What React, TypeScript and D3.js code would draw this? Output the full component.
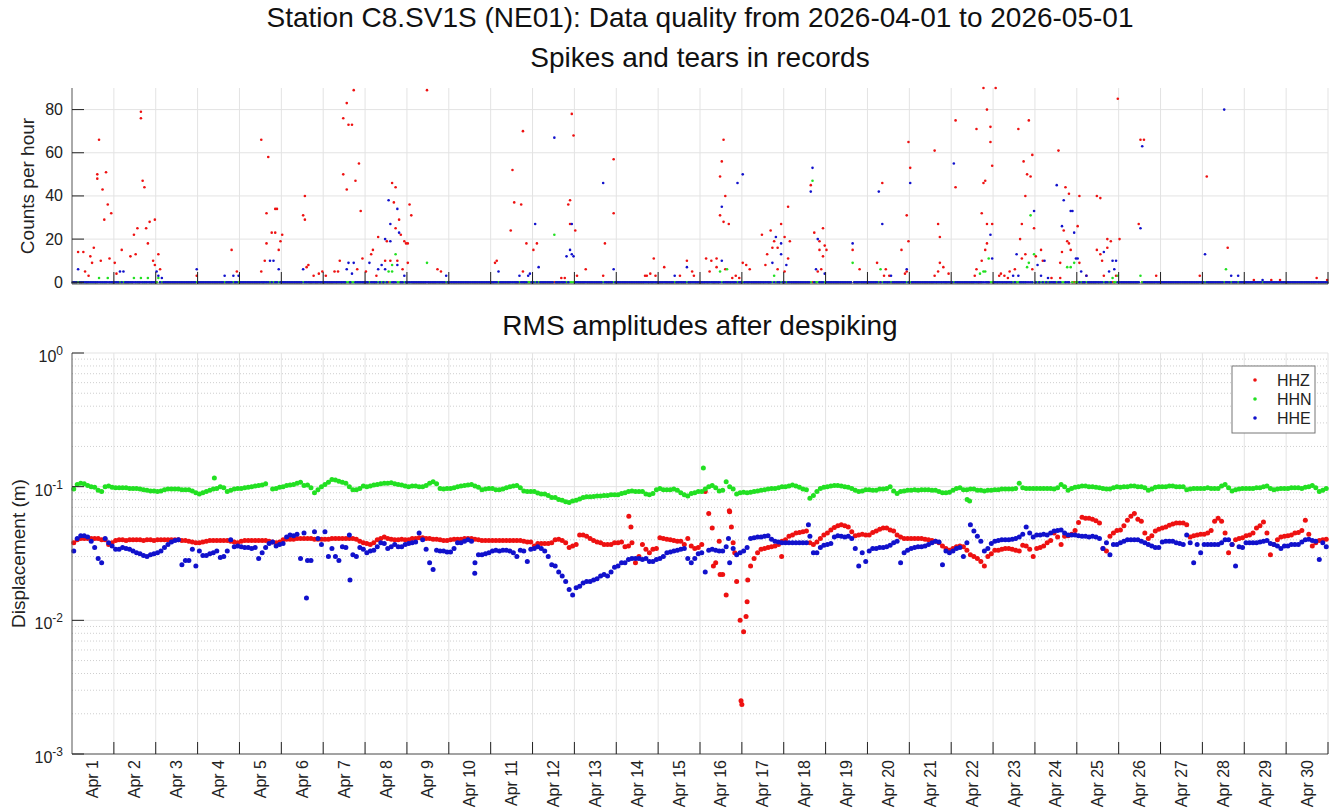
import React from "react";
import * as d3 from "d3";

// ---------- labels ----------
const DAY_LABELS = [
  "Apr 1", "Apr 2", "Apr 3", "Apr 4", "Apr 5", "Apr 6", "Apr 7", "Apr 8", "Apr 9", "Apr 10",
  "Apr 11", "Apr 12", "Apr 13", "Apr 14", "Apr 15", "Apr 16", "Apr 17", "Apr 18", "Apr 19", "Apr 20",
  "Apr 21", "Apr 22", "Apr 23", "Apr 24", "Apr 25", "Apr 26", "Apr 27", "Apr 28", "Apr 29", "Apr 30",
];
const TOP_Y_TICKS = [0, 20, 40, 60, 80];
const BOT_Y_TICKS = [1e-3, 1e-2, 1e-1, 1];
const BOT_Y_EXP = ["-3", "-2", "-1", "0"];
const CHANNELS = ["HHZ", "HHN", "HHE"];
const COLORS = ["#ee1111", "#22e022", "#1111cc"];

// ---------- RMS amplitudes (mm), 2-hour bins, 12 per day, Apr 1 .. Apr 30 ----------
const HHZ_RMS_MM = [
  38, 40, 41, 41, 41, 41, 41, 41, 40, 40, 37, 38,
  39.5, 40, 40, 39.5, 40, 40, 40, 40, 39.5, 40, 40, 39.5,
  40, 40, 40, 40, 40, 40, 40, 39.5, 39.5, 39, 38.5, 38,
  38, 38.5, 39, 39.5, 39.5, 39.5, 39.5, 39.5, 39.5, 39, 38.5, 38,
  39, 39.5, 39.5, 39.5, 39.5, 39.5, 39.5, 39.5, 39, 38.5, 38, 38.5,
  40, 40.5, 40.5, 40.5, 41, 41, 41, 41, 41, 40.5, 40.5, 40.5,
  40.5, 40.5, 41, 41, 41, 41, 41, 41, 41, 40.5, 39, 38,
  37.5, 37, 38, 40, 41, 42, 41, 40.5, 40, 40, 40.5, 40,
  40, 41, 41, 41.5, 41.5, 41, 41, 40.5, 40.5, 40, 39.5, 39.5,
  40, 40.5, 40.5, 40.5, 41, 41, 41, 40.5, 40, 39.5, 39.5, 39.5,
  39.5, 39.5, 39.5, 39.5, 39.5, 39.5, 39.5, 39.5, 39.5, 39, 38.5, 38.5,
  36, 37.5, 37.5, 37.5, 37.5, 38, 40, 40.5, 39.5, 38, 35, 36,
  37, 43.5, 43.5, 42.5, 41, 39.5, 38.5, 38, 37, 37, 37, 38,
  38, 38.5, 35.5, 36, 38, 27, 30, 37, 34, 32, 34, 34.5,
  41.5, 41, 40.5, 40, 39.5, 39, 39, 37, 41, 36, 34.5, 35,
  37, 92, 63, 49, 27, 39, 22, 15.5, 65, 38, 19.5, 10,
  8.2, 13.8, 25.5, 29, 32, 34, 34.5, 35, 35.5, 36, 37, 39,
  40, 42.5, 43.5, 45, 45.5, 46, 46.5, 38, 37, 38.5, 41, 43.5,
  45, 47.5, 49.5, 51, 52, 51, 50, 46, 43, 43.5, 44, 43.5,
  43.5, 45.5, 46.5, 48, 49, 49, 47.5, 46.5, 43.5, 42, 41, 41,
  41, 41, 41, 41, 40.5, 40, 39.5, 39, 38, 36, 34.5, 33.5,
  34.5, 35.5, 36, 35.5, 33.5, 31, 30, 29, 27.5, 25.5, 30, 31.5,
  33.5, 33.5, 34, 34.5, 34.5, 34, 33.5, 33, 36.5, 36, 34, 30,
  34.5, 35, 36, 38, 39.5, 45, 42, 37, 42.5, 43, 44, 47,
  54, 59, 58, 58, 57, 55.5, 53.5, 34.5, 33, 42.5, 45, 47,
  47.5, 51, 56, 60, 63, 57, 55, 45, 41, 43, 46.5, 48,
  49, 50, 51.5, 52.5, 53.5, 53.5, 53.5, 52, 42, 43, 43.5, 44,
  44, 45, 47, 55, 58, 55, 45, 32, 37, 40, 41, 41.5,
  43, 43.5, 45, 49, 51, 54.5, 45, 31, 37, 40, 42, 42.5,
  43, 43.5, 45, 45.5, 47, 56, 44, 36, 38, 39.5, 40, 40.5,
];
const HHN_RMS_MM = [
  96, 104, 106, 105, 102, 100, 99, 94, 92, 100, 101, 99,
  98, 98, 98, 98, 97, 97, 97, 96, 95, 94, 93, 93,
  92, 93, 95, 96, 96, 96, 96, 95, 95, 95, 93, 90,
  88, 90, 92, 94, 96, 97, 100, 98, 92, 94, 96, 97,
  97, 98, 99, 100, 101, 102, 103, 105, null, 96, 97, 99,
  100, 102, 103, 104, 106, 108, 102, 103, 98, 90, 95, 100,
  104, 108, 113, 112, 110, 108, 106, 100, 95, 95, 97, 101,
  100, 101, 103, 104, 105, 106, 106, 107, 105, 104, 103, 101,
  100, 101, 101, 100, 100, 102, 106, 109, 105, 97, 96, 97,
  97, 98, 100, 101, 102, 103, 104, 101, 99, 95, 96, 97,
  97, 95, 95, 96, 98, 100, 101, 102, 98, 93, 92, 92,
  92, 89.5, 88, 88, 86, 83, 83, 80, 79, 77, 76, 78,
  79, 81, 83, 84, 84, 84.5, 85, 85, 86, 86, 87, 87,
  87, 89, 90, 92, 93, 92, 92, 92, 88, 87, 89, 95,
  97, 95, 95, 95, 96, 94, 90, 87, 85, 89, 90, 92,
  92, 96, 100, 102, 98, 93, 94, 109, 100, 96, 88, 90,
  91, 90, 91, 92, 93, 94, 95, 96, 97, 97, 98, 100,
  100, 101, 103, 101, 99, 96, 95, 82, 86, 92, 97, 99,
  100, 101, 102, 102, 101, 100, 99, 97, 94, 92, 93, 95,
  95, 94, 94, 96, 96, 97, 100, 93, 89, 92, 93, 94,
  94, 95, 94, 95, 95, 95, 94, 94, 92, 90, 90, 91,
  94, 97, 98, 95, 95, 96, 96, 94, 94, 93, 94, 94,
  95, 95, 96, 96, 96, 96, 97, 106, 98, 97, 97, 97,
  97, 97, 97, 97, 97, 96, 98, 104, 100, 94, 97, 99,
  100, 101, 101, 100, 100, 99, 98, 97, 96, 96, 98, 100,
  99, 100, 100, 101, 101, 100, 100, 98, 94, 96, 99, 100,
  100, 100, 101, 101, 100, 100, 100, 95, 96, 97, 97, 97,
  97, 98, 97, 97, 97, 101, 104, 98, 93, 95, 96, 97,
  97, 97, 97, 98, 98, 100, 101, 97, 95, 96, 97, 97,
  97, 98, 98, 98, 97, 99, 100, 102, 98, 92, 94, 97,
];
const HHE_RMS_MM = [
  33, 41, 43, 43, 42, 39, 35, 29, 27, 41, 38, 36,
  34, 34, 35, 34.5, 34, 33, 32, 31.5, 30.5, 30, 31, 31.5,
  32, 33, 35, 37, 38.5, 39.5, 40, 26, 28, 28, 34, 25.5,
  33, 30.5, 30.5, 31.5, 32, 33, 29.5, 30, 33, 40, 35.5, 36,
  35.5, 35, 35, 34.5, 35, 29, 32, 35, 37.5, 38.5, 36, 37,
  37.5, 42, 43.5, 43, 44, 29, 45, 28, 28, 46, 41, 37,
  46, 30, 34.5, 30, 28, 35.5, 35, 43.5, 31, 30, 35, 34,
  32, 33, 33.5, 35.5, 38, 37.5, 34.5, 35.5, 37, 35.5, 35.5, 37,
  37.5, 38, 38.5, 45, 40, 34, 27, 24, 33.5, 33, 33, 32.5,
  32.5, 34.5, 38, 38, 39, 40, 39, 27, 31, 31, 31.5, 32,
  33, 33.5, 33, 33.5, 33.5, 33, 32, 30, 33.5, 33, 27.5, 34,
  34.5, 35.5, 34.5, 33, 30, 26, 25.5, 23, 21.5, 19.5, 17, 15.5,
  17.5, 18, 19, 19.5, 19.5, 20, 20.5, 21.5, 22, 21.5, 23, 25,
  25.5, 27, 27, 28.5, 29, 29, 29, 28.5, 29, 27.5, 27.5, 28.5,
  29, 30, 32, 32.5, 33, 33.5, 34, 34.5, 29, 27, 29, 31.5,
  32, 23, 33.5, 34, 33.5, 33, 33, 35.5, 27, 34.5, 31, 32,
  33, 35, 41, 41.5, 42, 42, 42.5, 43, 40.5, 39, 38.5, 38,
  38, 38, 38, 38, 38, 38, 38, 42.5, 32, 32, 35, 36.5,
  37, 37.5, 42, 43, 42.5, 42, 42.5, 41, 34.5, 25.5, 32, 27.5,
  33, 34.5, 34.5, 35, 35, 35.5, 36.5, 38, 39, 27, 32, 33.5,
  34.5, 35, 35.5, 35.5, 36, 37, 38, 39, 38.5, 26, 33, 32,
  33, 34.5, 35, 30, 38, 52, 46.5, 42.5, 39, 33, 34.5, 37.5,
  39, 39.5, 40, 40, 40, 40.5, 41, 42, 44, 50, 45, 42,
  43.5, 43.5, 44, 43.5, 45, 46.5, 47, 47.5, 45, 43.5, 43.5, 43.5,
  43, 42.5, 42.5, 42, 42.5, 42, 41, 34.5, 38, 31, 37, 37,
  38, 39, 40, 40, 40, 40, 39, 38, 37, 36, 35, 35,
  38.5, 39, 39, 39, 38, 37.5, 37, 43.5, 38, 27, 37, 32,
  37, 37, 37, 37, 37, 38, 40, 40, 37, 25.5, 35.5, 35,
  38, 38, 38, 38, 38.5, 39, 39.5, 37.5, 37, 36, 34.5, 36,
  36, 37, 37, 37, 38.5, 40, 40.5, 39.5, 39, 28.5, 38, 35.5,
];
// isolated RMS points [day offset from Apr 1, mm]
const HHZ_RMS_EXTRA = [
  [13.3, 60], [13.35, 50], [15.32, 25.5], [15.48, 22], [15.7, 66], [15.75, 50], [15.83, 32],
  [15.98, 2.5], [16.0, 2.35], [16.1, 10.7], [16.14, 20], [16.95, 30],
];
const HHN_RMS_EXTRA = [[3.4, 116], [15.08, 138], [21.38, 80], [21.44, 78]];
const HHE_RMS_EXTRA = [[5.6, 14.7], [6.64, 20], [9.62, 22.5], [15.68, 41], [17.59, 52]];

// ---------- spike counts per hour [hour since Apr 1 00:00, count]; unlisted hours are 0 ----------
const HHZ_SPIKES = [
  [3, 14], [6, 14], [7, 5], [9, 3], [10, 12], [11, 9], [12, 16], [14, 48], [14, 50], [15, 66], [16, 10],
  [17, 43], [18, 29], [19, 51], [20, 36], [21, 11], [22, 32], [24, 9], [25, 4], [28, 15], [33, 12],
  [35, 22], [36, 13], [37, 25], [39, 76], [39, 79], [40, 47], [41, 44], [42, 25], [43, 18], [44, 28],
  [46, 10], [47, 29], [47, 8], [49, 13], [50, 6], [71, 3], [91, 15], [94, 5], [108, 66], [108, 5],
  [110, 10], [111, 32], [111, 18], [112, 58], [114, 23], [116, 34], [116, 23], [117, 34], [118, 15],
  [119, 19], [120, 22], [132, 31], [133, 29], [133, 40], [134, 7], [135, 8], [138, 3], [141, 4],
  [143, 5], [145, 3], [150, 5], [153, 10],
  [152, 5], [155, 76], [155, 50], [157, 83], [157, 43], [158, 73], [160, 73], [161, 89], [162, 47],
  [163, 6], [164, 55], [165, 33], [166, 11], [168, 5], [171, 13], [172, 15], [174, 3], [175, 21],
  [179, 10], [180, 19], [182, 10], [183, 46], [184, 37], [185, 44], [185, 25], [186, 10], [187, 29],
  [188, 22], [189, 6], [190, 19], [191, 18], [192, 9], [192, 18], [193, 36], [194, 31], [203, 89],
  [209, 6], [211, 5], [242, 9], [243, 10], [251, 24], [252, 52], [253, 37], [257, 36], [258, 70],
  [258, 5], [260, 18], [264, 15], [266, 18], [280, 2], [282, 2], [284, 36], [285, 27], [285, 38],
  [286, 78], [287, 68], [288, 24], [289, 3], [294, 6], [304, 3], [305, 18], [310, 32], [310, 57],
  [328, 3], [329, 3], [331, 4], [333, 11], [334, 3], [339, 7],
  [348, 3], [352, 10], [355, 5], [356, 3], [363, 11], [365, 5], [366, 10], [369, 11], [369, 7],
  [371, 49], [371, 31], [372, 56], [373, 28], [373, 66], [374, 40], [374, 6], [376, 27], [378, 2],
  [380, 3], [382, 2], [384, 9], [386, 8], [388, 6], [395, 22], [397, 8], [398, 13], [400, 24],
  [401, 16], [402, 19], [404, 16], [404, 6], [406, 27], [408, 21], [408, 5], [410, 35], [410, 11],
  [411, 19], [423, 45], [425, 23], [427, 5], [428, 19], [428, 15], [429, 6], [430, 12], [430, 25],
  [431, 17], [432, 15], [447, 15], [451, 6], [461, 9], [464, 46], [465, 3], [466, 6], [468, 3],
  [475, 15], [477, 4], [478, 31], [478, 5], [479, 19], [479, 65], [480, 53], [494, 3], [494, 61],
  [496, 27], [496, 5], [497, 21], [497, 9], [499, 7], [502, 4], [506, 75], [506, 44], [517, 3],
  [518, 6], [518, 71], [521, 10], [521, 32], [522, 46], [522, 90], [523, 47], [523, 15], [524, 80],
  [524, 27], [524, 18], [526, 72], [526, 65], [527, 27], [527, 54], [529, 90], [531, 3], [532, 4],
  [534, 3],
  [536, 2], [537, 5], [540, 6], [542, 71], [543, 20], [544, 27], [544, 11], [545, 56], [546, 40],
  [546, 13], [547, 50], [548, 75], [549, 49], [550, 6], [550, 59], [551, 25], [552, 12], [555, 15],
  [556, 10], [561, 2], [565, 61], [566, 9], [566, 2], [567, 14], [568, 24], [569, 44], [570, 19],
  [571, 41], [571, 18], [572, 15], [576, 26], [577, 40], [577, 9], [581, 3], [587, 40], [587, 15],
  [589, 39], [589, 13], [590, 10], [591, 3], [593, 16], [593, 20], [595, 19], [598, 3], [599, 85],
  [600, 20], [611, 27], [612, 66], [614, 66], [621, 3], [646, 3], [650, 49], [662, 16], [677, 1],
  [687, 1], [692, 1], [713, 2], [719, 1],
];
const HHN_SPIKES = [
  [15, 2], [20, 2], [35, 2], [39, 2], [43, 2], [49, 2], [181, 5], [183, 5], [183, 8], [185, 13],
  [203, 9], [276, 22], [371, 5], [375, 6], [402, 3], [424, 47], [447, 9], [463, 6], [520, 4],
  [522, 5], [523, 5], [525, 11], [547, 7], [548, 9], [549, 31], [551, 13], [570, 7], [572, 7],
  [574, 9], [596, 2], [599, 3], [612, 3], [661, 6],
];
const HHE_SPIKES = [
  [3, 6], [27, 5], [29, 5], [48, 5], [49, 3], [51, 2], [71, 6], [87, 3], [92, 3], [95, 3], [113, 10],
  [115, 10], [118, 6], [132, 6],
  [157, 6], [158, 9], [160, 4], [161, 9], [170, 9], [175, 6], [177, 8], [179, 20], [179, 6], [181, 38],
  [182, 19], [182, 27], [186, 34], [186, 8], [187, 23], [190, 3], [214, 3], [244, 5], [256, 3],
  [261, 3], [262, 4], [265, 27], [267, 7], [276, 67], [283, 12], [285, 15], [286, 13], [286, 27],
  [287, 12], [304, 46], [310, 6],
  [345, 3], [352, 7], [372, 35], [372, 10], [381, 46], [384, 50], [401, 9], [403, 21], [406, 18],
  [406, 13], [409, 8], [423, 42], [424, 53], [426, 6], [427, 20], [431, 4], [447, 18], [462, 42],
  [464, 27], [469, 3], [478, 6], [480, 46], [505, 55], [526, 22], [527, 11],
  [539, 3], [541, 13], [542, 3], [551, 33], [553, 8], [555, 3], [557, 10], [559, 2], [564, 45],
  [567, 26], [568, 38], [572, 33], [573, 33], [574, 23], [575, 11], [576, 11], [578, 5], [581, 3],
  [591, 14], [594, 5], [596, 10], [597, 6], [598, 10], [612, 25], [613, 63], [649, 13], [660, 80],
  [664, 3], [668, 3], [682, 1],
];

const HOURS = 720;
const FONT = "'Liberation Sans', Arial, Helvetica, sans-serif";

function rmsPoints(mm: (number | null)[], extra: number[][]) {
  const pts: { t: number; v: number }[] = [];
  mm.forEach((v, i) => {
    if (v != null) pts.push({ t: (i + 0.5) / 12, v: v / 1000 });
  });
  extra.forEach(([t, v]) => pts.push({ t, v: v / 1000 }));
  return pts;
}

function spikePoints(spikes: number[][]) {
  const listed = new Set(spikes.map((s) => s[0]));
  const pts: { t: number; c: number }[] = [];
  for (let h = 0; h < HOURS; h++) if (!listed.has(h)) pts.push({ t: (h + 0.5) / 24, c: 0 });
  spikes.forEach(([h, c]) => pts.push({ t: (h + 0.5) / 24, c }));
  return pts;
}

export default function App() {
  const W = 1334, H = 811;
  const L = 72, R = 1328;
  const topT = 88, topB = 284;
  const botT = 353, botB = 754;

  const x = d3.scaleLinear().domain([0, 30]).range([L, R]);
  const yTop = d3.scaleLinear().domain([-0.8, 90]).range([topB, topT]);
  const yBot = d3.scaleLog().domain([1e-3, 1]).range([botB, botT]);

  const dayBounds = d3.range(1, 31);
  const minorTicks = yBot.ticks().filter((v) => Math.abs(Math.log10(v) - Math.round(Math.log10(v))) > 1e-6);

  const rms = [
    rmsPoints(HHZ_RMS_MM, HHZ_RMS_EXTRA),
    rmsPoints(HHN_RMS_MM, HHN_RMS_EXTRA),
    rmsPoints(HHE_RMS_MM, HHE_RMS_EXTRA),
  ];
  const spikes = [spikePoints(HHZ_SPIKES), spikePoints(HHN_SPIKES), spikePoints(HHE_SPIKES)];

  const gridColor = "#e3e3e3";
  const axisColor = "#555";
  const tickLen = 12;

  return (
    <svg
      width={W}
      height={H}
      style={{ position: "absolute", left: 0, top: 0, background: "#fff" }}
      fontFamily={FONT}
    >
      <rect x={0} y={0} width={W} height={H} fill="#fff" />
      {/* titles */}
      <text x={700} y={27} fontSize={28} textAnchor="middle" fill="#111">
        Station C8.SV1S (NE01): Data quality from 2026-04-01 to 2026-05-01
      </text>
      <text x={700} y={67} fontSize={28} textAnchor="middle" fill="#111">
        Spikes and tears in records
      </text>
      <text x={700} y={335} fontSize={28} textAnchor="middle" fill="#111">
        RMS amplitudes after despiking
      </text>

      {/* ---------- top panel ---------- */}
      <g>
        {dayBounds.map((d) => (
          <line key={"tg" + d} x1={x(d)} x2={x(d)} y1={topT} y2={topB} stroke={gridColor} strokeWidth={1} />
        ))}
        {TOP_Y_TICKS.map((v) => (
          <line key={"th" + v} x1={L} x2={R} y1={yTop(v)} y2={yTop(v)} stroke={gridColor} strokeWidth={1} />
        ))}
        {spikes.map((pts, ci) => (
          <g key={"sp" + ci} fill={COLORS[ci]}>
            {pts.map((p, i) => (
              <circle key={i} cx={x(p.t)} cy={yTop(p.c)} r={1.3} />
            ))}
          </g>
        ))}
        <line x1={L} x2={L} y1={topT} y2={topB} stroke={axisColor} />
        <line x1={L} x2={R} y1={topB} y2={topB} stroke={axisColor} />
        {dayBounds.map((d) => (
          <line key={"tt" + d} x1={x(d)} x2={x(d)} y1={topB - tickLen} y2={topB} stroke="#222" />
        ))}
        {TOP_Y_TICKS.map((v) => (
          <g key={"tl" + v}>
            <line x1={L} x2={L + tickLen} y1={yTop(v)} y2={yTop(v)} stroke="#222" />
            <text x={L - 9} y={yTop(v)} fontSize={16} textAnchor="end" dominantBaseline="central" fill="#222">
              {v}
            </text>
          </g>
        ))}
        <text
          transform={`translate(27,${(topT + topB) / 2}) rotate(-90)`}
          fontSize={19}
          textAnchor="middle"
          dominantBaseline="central"
          fill="#222"
        >
          Counts per hour
        </text>
      </g>

      {/* ---------- bottom panel ---------- */}
      <g>
        {minorTicks.map((v, i) => (
          <line key={"mg" + i} x1={L} x2={R} y1={yBot(v)} y2={yBot(v)} stroke="#cfcfcf" strokeDasharray="1,2" />
        ))}
        {BOT_Y_TICKS.map((v) => (
          <line key={"bg" + v} x1={L} x2={R} y1={yBot(v)} y2={yBot(v)} stroke={gridColor} />
        ))}
        {dayBounds.map((d) => (
          <line key={"bv" + d} x1={x(d)} x2={x(d)} y1={botT} y2={botB} stroke={gridColor} />
        ))}
        {rms.map((pts, ci) => (
          <g key={"rm" + ci} fill={COLORS[ci]}>
            {pts.map((p, i) => (
              <circle key={i} cx={x(p.t)} cy={yBot(p.v)} r={2.5} />
            ))}
          </g>
        ))}
        <line x1={L} x2={L} y1={botT} y2={botB} stroke={axisColor} />
        <line x1={L} x2={R} y1={botB} y2={botB} stroke={axisColor} />
        {dayBounds.map((d) => (
          <line key={"bt" + d} x1={x(d)} x2={x(d)} y1={botB - tickLen} y2={botB} stroke="#222" />
        ))}
        {BOT_Y_TICKS.map((v, i) => (
          <g key={"bl" + v}>
            <line x1={L} x2={L + tickLen} y1={yBot(v)} y2={yBot(v)} stroke="#222" />
            <text x={L - 9} y={yBot(v) + 9} fontSize={16} textAnchor="end" fill="#222">
              10
              <tspan fontSize={12} dy={-7}>
                {BOT_Y_EXP[i]}
              </tspan>
            </text>
          </g>
        ))}
        {DAY_LABELS.map((lab, i) => (
          <text
            key={lab}
            transform={`translate(${x(i + 0.5)},${botB + 6}) rotate(-90)`}
            fontSize={16}
            textAnchor="end"
            dominantBaseline="central"
            fill="#222"
          >
            {lab}
          </text>
        ))}
        <text
          transform={`translate(18,${(botT + botB) / 2}) rotate(-90)`}
          fontSize={19}
          textAnchor="middle"
          dominantBaseline="central"
          fill="#222"
        >
          Displacement (m)
        </text>

        {/* legend */}
        <rect x={1232} y={366} width={83} height={67} fill="#fff" stroke="#777" />
        {CHANNELS.map((c, i) => (
          <g key={c}>
            <circle cx={1255} cy={380 + i * 19} r={1.8} fill={COLORS[i]} />
            <text x={1277} y={380 + i * 19} fontSize={16} dominantBaseline="central" fill="#222">
              {c}
            </text>
          </g>
        ))}
      </g>
    </svg>
  );
}
